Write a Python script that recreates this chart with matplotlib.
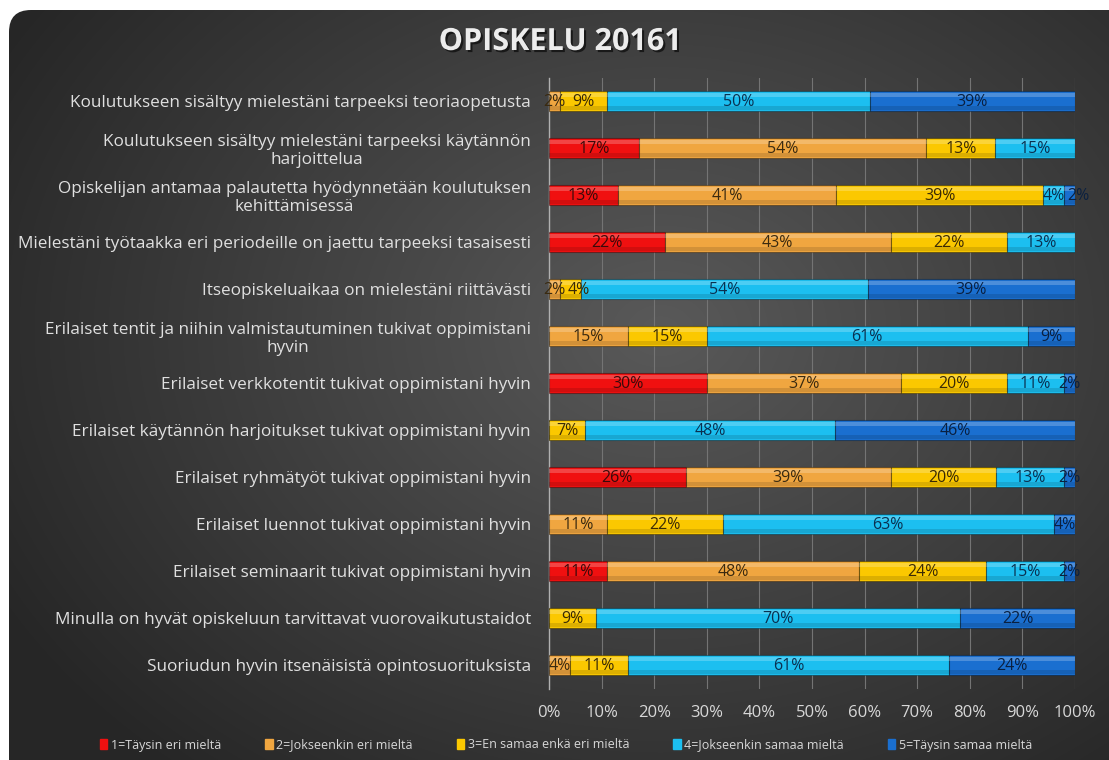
import numpy as np
import matplotlib
matplotlib.use("Agg")
import matplotlib.pyplot as plt
from matplotlib.patches import FancyBboxPatch
import matplotlib.patheffects as pe

categories = [
    "Koulutukseen sisältyy mielestäni tarpeeksi teoriaopetusta",
    "Koulutukseen sisältyy mielestäni tarpeeksi käytännön\nharjoittelua",
    "Opiskelijan antamaa palautetta hyödynnetään koulutuksen\nkehittämisessä",
    "Mielestäni työtaakka eri periodeille on jaettu tarpeeksi tasaisesti",
    "Itseopiskeluaikaa on mielestäni riittävästi",
    "Erilaiset tentit ja niihin valmistautuminen tukivat oppimistani\nhyvin",
    "Erilaiset verkkotentit tukivat oppimistani hyvin",
    "Erilaiset käytännön harjoitukset tukivat oppimistani hyvin",
    "Erilaiset ryhmätyöt tukivat oppimistani hyvin",
    "Erilaiset luennot tukivat oppimistani hyvin",
    "Erilaiset seminaarit tukivat oppimistani hyvin",
    "Minulla on hyvät opiskeluun tarvittavat vuorovaikutustaidot",
    "Suoriudun hyvin itsenäisistä opintosuorituksista",
]
series_names = [
    "1=Täysin eri mieltä",
    "2=Jokseenkin eri mieltä",
    "3=En samaa enkä eri mieltä",
    "4=Jokseenkin samaa mieltä",
    "5=Täysin samaa mieltä",
]
s1 = [0, 17, 13, 22, 0, 0, 30, 0, 26, 0, 11, 0, 0]
s2 = [2, 54, 41, 43, 2, 15, 37, 0, 39, 11, 48, 0, 4]
s3 = [9, 13, 39, 22, 4, 15, 20, 7, 20, 22, 24, 9, 11]
s4 = [50, 15, 4, 13, 54, 61, 11, 48, 13, 63, 15, 70, 61]
s5 = [39, 0, 2, 0, 39, 9, 2, 46, 2, 4, 2, 22, 24]
xticks = [0, 10, 20, 30, 40, 50, 60, 70, 80, 90, 100]

colors = ["#f01010", "#f0a640", "#fbc800", "#1cbff0", "#1a6fd0"]
text_colors = ["#3a0a0a", "#3a2a10", "#3a2a05", "#0a3050", "#0a2040"]

W, H = 1109, 760
fig = plt.figure(figsize=(W / 100, H / 100), dpi=100)
fig.patch.set_facecolor("white")

# background with rounded dark gradient
bg = fig.add_axes([0, 0, 1, 1])
bg.set_xlim(0, W)
bg.set_ylim(H, 0)
bg.axis("off")
yy, xx = np.mgrid[0:H, 0:W]
d = np.sqrt(((xx - 660) / 680.0) ** 2 + ((yy - 330) / 520.0) ** 2)
g = np.clip(0.35 - 0.18 * d, 0.15, 0.35)
img = np.dstack([g, g, g])
im = bg.imshow(img, extent=[0, W, H, 0], aspect="auto", zorder=0)
patch = FancyBboxPatch((9, 10), W + 20, H + 20,
                       boxstyle="round,pad=0,rounding_size=22",
                       transform=bg.transData, facecolor="none", edgecolor="none")
bg.add_patch(patch)
im.set_clip_path(patch)

ax_l, ax_r = 549, 1075
ax = fig.add_axes([ax_l / W, 1 - 688.5 / H, (ax_r - ax_l) / W, (688.5 - 77.5) / H])
ax.patch.set_alpha(0)

data = np.array([s1, s2, s3, s4, s5], dtype=float)
totals = data.sum(axis=0)
frac = data / totals * 100
y = np.arange(len(categories))
left = np.zeros(len(categories))
bh = 0.44
row_texts = [[] for _ in categories]
for i in range(5):
    ax.barh(y, frac[i], left=left, height=bh, color=colors[i],
            edgecolor=(0, 0, 0, 0.35), linewidth=0.8, zorder=3)
    ax.barh(y - bh * 0.28, frac[i], left=left, height=bh * 0.22,
            color="white", alpha=0.22, linewidth=0, zorder=4)
    ax.barh(y + bh * 0.34, frac[i], left=left, height=bh * 0.16,
            color="black", alpha=0.12, linewidth=0, zorder=4)
    for j in range(len(categories)):
        v = data[i, j]
        if v > 0:
            t = ax.text(left[j] + frac[i, j] / 2, y[j] + 0.02, f"{int(v)}%",
                        ha="center", va="center", fontsize=11.5,
                        color=text_colors[i], family="Open Sans", zorder=5)
            row_texts[j].append(t)
    left += frac[i]

ax.set_xlim(0, 100)
ax.set_ylim(len(categories) - 0.5, -0.5)
ax.set_xticks(xticks)
ax.set_xticklabels([f"{t}%" for t in xticks], color="#d8d8d8", fontsize=12,
                   family="Open Sans")
ax.set_yticks(y)
ax.set_yticklabels(categories, color="#e0e0e0", fontsize=12.3, family="Open Sans",
                   linespacing=1.2, multialignment="center")
ax.tick_params(axis="x", length=0, pad=12)
ax.tick_params(axis="y", length=0, pad=13)
ax.xaxis.grid(True, color="#747474", linewidth=0.8, zorder=0)
for s in ["top", "right", "bottom"]:
    ax.spines[s].set_visible(False)
ax.spines["left"].set_color("#b0b0b0")
ax.spines["left"].set_linewidth(1.0)

# shift labels of tiny neighbouring segments so that they do not overlap
fig.canvas.draw()
renderer = fig.canvas.get_renderer()
units_per_px = 100.0 / (ax_r - ax_l)
for texts in row_texts:
    prev_x1 = None
    for t in texts:
        bb = t.get_window_extent(renderer)
        if prev_x1 is not None and bb.x0 < prev_x1 + 2:
            dx = (prev_x1 + 2 - bb.x0) * units_per_px
            x0, y0 = t.get_position()
            t.set_position((x0 + dx, y0))
            bb = t.get_window_extent(renderer)
        prev_x1 = bb.x1

fig.text(560 / W, 1 - 42 / H, "OPISKELU 20161", ha="center", va="center",
         fontsize=22, fontweight="bold", color="#ececec", family="Open Sans",
         path_effects=[pe.withSimplePatchShadow(offset=(1.5, -1.5),
                                                shadow_rgbFace="black", alpha=0.6)])

handles = [plt.Rectangle((0, 0), 1, 1, color=c) for c in colors]
leg = fig.legend(handles, series_names, loc="center", ncol=5,
                 bbox_to_anchor=(566 / W, 1 - 745 / H), frameon=False,
                 handlelength=0.6, handleheight=0.9,
                 handletextpad=0.3, columnspacing=3.5,
                 prop={"family": "Open Sans", "size": 9})
for t in leg.get_texts():
    t.set_color("#d8d8d8")

fig.savefig("out.png", dpi=100, facecolor="white")
